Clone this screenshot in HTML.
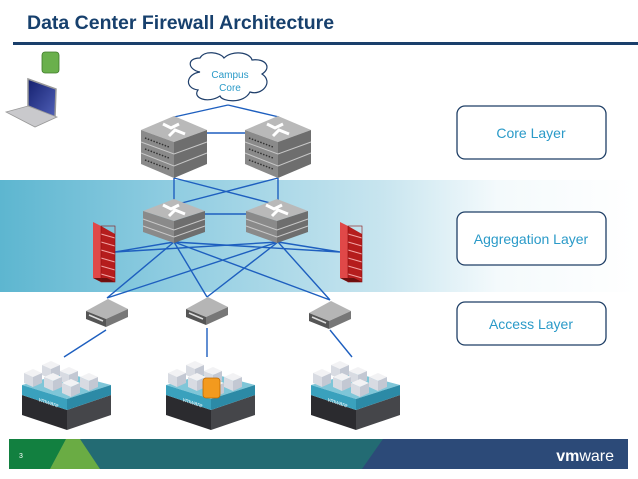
<!DOCTYPE html>
<html><head><meta charset="utf-8"><style>
html,body{margin:0;padding:0;background:#fff;}
svg{display:block;font-family:"Liberation Sans",sans-serif;}
</style></head><body>
<svg width="638" height="479" viewBox="0 0 638 479" xmlns="http://www.w3.org/2000/svg">
<defs>
<linearGradient id="band" x1="0" x2="1" y1="0" y2="0">
<stop offset="0" stop-color="#5db6d0"/><stop offset="0.25" stop-color="#8ccbe0"/><stop offset="0.6" stop-color="#c8e5ef"/><stop offset="0.78" stop-color="#f4fafc"/><stop offset="1" stop-color="#ffffff"/>
</linearGradient>
<linearGradient id="scr" x1="0" x2="1" y1="0" y2="1"><stop offset="0" stop-color="#14206e"/><stop offset="1" stop-color="#5060b8"/></linearGradient>
<g id="core">
<polygon points="0,14 33,0 66,14 33,26" fill="#b9b9b9"/>
<polygon points="0,14 33,26 33,62 0,48" fill="#8a8a8a"/>
<polygon points="33,26 66,14 66,48 33,62" fill="#6e6e6e"/>
<path d="M22,8 L30,12 L38,8 M28,20 L34,14 L44,18" stroke="#fff" stroke-width="3" fill="none"/>
<path d="M0,26 L33,38 L66,26 M0,37 L33,50 L66,37" stroke="#c8c8c8" stroke-width="1" fill="none"/>
<path d="M4,22 L28,31 M4,33 L28,42 M4,44 L28,53" stroke="#333" stroke-width="1.5" stroke-dasharray="1.5 1.5"/>
</g>
<g id="agg">
<polygon points="0,12 31,0 62,12 31,22" fill="#b9b9b9"/>
<polygon points="0,12 31,22 31,44 0,33" fill="#8a8a8a"/>
<polygon points="31,22 62,12 62,33 31,44" fill="#6e6e6e"/>
<path d="M20,6 L28,10 L36,6 M26,17 L32,11 L42,15" stroke="#fff" stroke-width="3" fill="none"/>
<path d="M0,20 L31,31 L62,20 M0,27 L31,38 L62,27" stroke="#c8c8c8" stroke-width="1" fill="none"/>
</g>
<g id="acc">
<polygon points="0,12 22,0 42,10 20,20" fill="#b5b5b5"/>
<polygon points="0,12 20,20 20,28 0,20" fill="#555"/>
<polygon points="20,20 42,10 42,18 20,28" fill="#777"/>
<path d="M3,16 L17,22" stroke="#ddd" stroke-width="1.5"/>
</g>
<g id="fw">
<polygon points="0,0 8,4 8,60 0,56" fill="#e04848"/>
<polygon points="8,4 22,12 22,60 8,60" fill="#b51d1d"/>
<polygon points="0,56 8,60 22,60 14,56" fill="#6b0f0f"/>
<path d="M8,12 L22,16 M8,20 L22,24 M8,28 L22,32 M8,36 L22,40 M8,44 L22,48 M8,52 L22,56" stroke="#f3a3a3" stroke-width="1"/>
<rect x="8" y="4" width="14" height="56" fill="none" stroke="#8a1010" stroke-width="0.6"/>
</g>
<g id="vm">
<polygon points="0,4 9,0 18,4 9,8" fill="#f2f2f4"/>
<polygon points="0,4 9,8 9,18 0,14" fill="#d8dbe2"/>
<polygon points="9,8 18,4 18,14 9,18" fill="#c3c8d3"/>
</g>
<g id="host">
<polygon points="4,40 49,55 49,75 4,60" fill="#2b2b2f"/>
<polygon points="49,55 93,40 93,60 49,75" fill="#45464a"/>
<polygon points="4,30 48,18 93,30 49,44" fill="#7fc6d8"/>
<polygon points="4,30 49,44 49,55 4,40" fill="#3aa1bd"/>
<polygon points="49,44 93,30 93,40 49,55" fill="#2c8aa6"/>
<text x="20" y="46" font-size="6" fill="#e8f6fa" transform="rotate(18 20 46)">vmware</text>
<use href="#vm" x="24" y="6"/><use href="#vm" x="6" y="14"/><use href="#vm" x="42" y="12"/>
<use href="#vm" x="26" y="18"/><use href="#vm" x="62" y="18"/><use href="#vm" x="44" y="24"/>
</g>
</defs>
<rect width="638" height="479" fill="#fff"/>
<rect x="0" y="180" width="638" height="112" fill="url(#band)"/>
<text x="27" y="29" font-size="19.5" font-weight="bold" fill="#17406d">Data Center Firewall Architecture</text>
<rect x="13" y="42" width="625" height="3" fill="#1a3f6b"/>
<rect x="42" y="52" width="17" height="21" rx="3" fill="#6ab04c" stroke="#3f7a2a" stroke-width="0.8"/>
<polygon points="28,79 56,89 55,117 28,106" fill="url(#scr)" stroke="#999" stroke-width="1.5"/>
<polygon points="6,112 28,106 57,117 35,127" fill="#c9c9cc" stroke="#999" stroke-width="0.8"/>
<path d="M200,72 C188,70 186,58 200,58 C204,50 220,52 224,58 C232,50 250,52 252,60 C266,58 272,68 262,74 C274,82 262,96 250,92 C244,104 222,102 220,96 C208,104 192,98 198,90 C184,88 186,74 200,72 Z" fill="#fff" stroke="#1f3f6b" stroke-width="1.2"/>
<text x="230" y="78" font-size="10" fill="#2a9ac8" text-anchor="middle">Campus</text>
<text x="230" y="91" font-size="10" fill="#2a9ac8" text-anchor="middle">Core</text>
<g stroke="#1e5fbf" stroke-width="1.4" fill="none">
<path d="M228,105 L174,117 M228,105 L279,117"/>
<path d="M207,133 L245,133"/>
<path d="M174,178 L174,205 M278,178 L278,205 M174,178 L278,205 M278,178 L174,205"/>
<path d="M205,214 L247,214"/>
<path d="M174,242 L115,252 M174,242 L340,252 M278,242 L115,252 M278,242 L340,252"/>
<path d="M174,242 L107,298 M174,242 L207,297 M174,242 L330,300 M278,242 L107,298 M278,242 L207,297 M278,242 L330,300"/>
<path d="M106,330 L64,357 M207,328 L207,357 M330,330 L352,357"/>
</g>
<use href="#core" x="141" y="116"/>
<use href="#core" x="245" y="116"/>
<use href="#agg" x="143" y="199"/>
<use href="#agg" x="246" y="199"/>
<use href="#fw" x="93" y="222"/>
<use href="#fw" x="340" y="222"/>
<use href="#acc" x="86" y="299"/>
<use href="#acc" x="186" y="297"/>
<use href="#acc" x="309" y="301"/>
<use href="#host" x="18" y="355"/>
<use href="#host" x="162" y="355"/>
<use href="#host" x="307" y="355"/>
<rect x="203" y="378" width="17" height="20" rx="3" fill="#f39a1e" stroke="#c06a00" stroke-width="0.8"/>
<g fill="#fff" stroke="#1f3f66" stroke-width="1.3">
<rect x="457" y="106" width="149" height="53" rx="8"/>
<rect x="457" y="212" width="149" height="53" rx="8"/>
<rect x="457" y="302" width="149" height="43" rx="8"/>
</g>
<g font-size="14" fill="#2a9ac8" text-anchor="middle">
<text x="531" y="138">Core Layer</text>
<text x="531" y="244">Aggregation Layer</text>
<text x="531" y="329">Access Layer</text>
</g>
<rect x="9" y="439" width="619" height="30" fill="#236b73"/>
<polygon points="9,439 66,439 50,469 9,469" fill="#128040"/>
<polygon points="66,439 80,439 100,469 50,469" fill="#6aac44"/>
<polygon points="383,439 628,439 628,469 362,469" fill="#2c4a78"/>
<text x="19" y="458" font-size="7" fill="#fff">3</text>
<text x="614" y="461" font-size="16" fill="#fff" text-anchor="end"><tspan font-weight="bold">vm</tspan>ware</text>
</svg>
</body></html>
